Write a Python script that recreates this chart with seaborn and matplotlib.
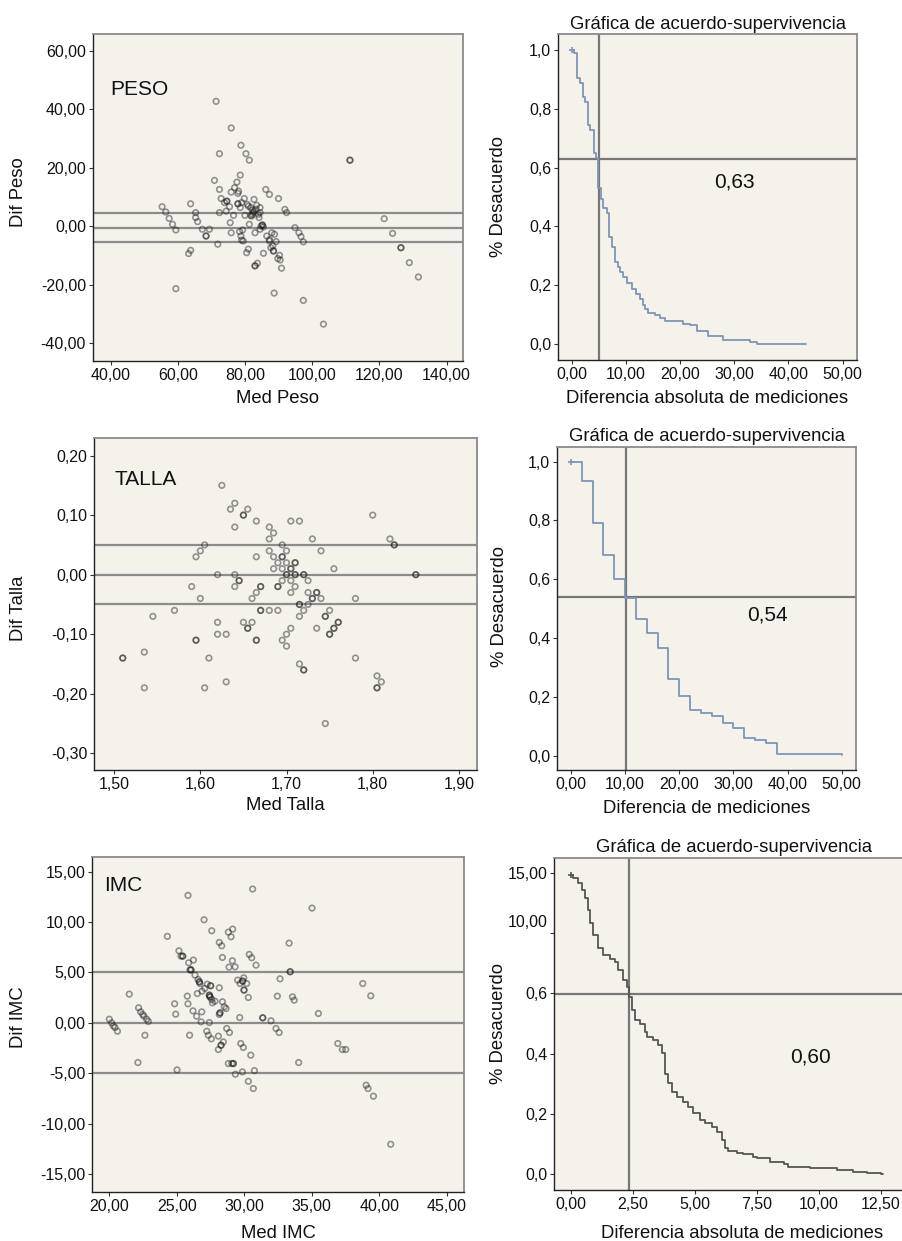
import matplotlib
matplotlib.use("Agg")
import matplotlib.pyplot as plt
import matplotlib.transforms as mtransforms
import seaborn as sns

sns.set_theme(style="white")
plt.rcParams['font.family'] = ['Liberation Sans', 'DejaVu Sans']

# ---------------- DATA ----------------
# PESO Bland-Altman
peso_med = [55.2, 56.3, 57.3, 58.3, 59.3, 59.3, 63.1, 63.7, 63.7, 65.2, 65.2, 65.8, 67.2, 68.3, 68.3,
            69.3, 70.8, 71.3, 71.8, 72.3, 72.3, 72.3, 72.8, 73.8, 74.3, 74.5, 74.5, 75.3, 75.5, 75.8,
            75.8, 75.8, 76.5, 76.8, 77.5, 77.8, 77.8, 77.8, 78.0, 78.3, 78.5, 78.5, 78.7, 78.7, 78.9,
            78.9, 79.2, 79.4, 79.7, 79.9, 80.2, 80.4, 80.9, 80.9, 80.6, 81.2, 81.2, 81.6, 81.6, 81.9,
            82.1, 82.1, 82.4, 82.6, 82.6, 82.9, 82.9, 82.9, 83.2, 83.4, 83.6, 83.9, 84.1, 84.4, 84.4,
            84.4, 84.7, 85.1, 85.1, 85.4, 85.4, 86.1, 86.4, 87.2, 87.2, 87.2, 87.6, 87.9, 88.2, 88.4,
            88.4, 88.6, 88.7, 89.2, 89.7, 89.9, 90.2, 90.4, 90.8, 91.8, 92.3, 94.8, 96.0, 96.6, 97.3,
            97.3, 103.3, 111.2, 111.2, 121.4, 123.9, 126.4, 126.4, 128.9, 131.6]
peso_dif = [6.7, 4.9, 2.7, 0.7, -1.25, -21.3, -9.3, -8.2, 7.7, 4.7, 3.0, 1.6, -1.0, -3.3, -3.3,
            -1.0, 15.7, 42.7, -6.1, 4.7, 12.6, 24.8, 9.5, 8.1, 5.2, 8.6, 8.6, 6.7, 1.25, 11.7,
            33.6, -2.2, 3.75, 13.2, 15.1, 11.25, 7.7, 7.7, 12.0, -1.8, 6.4, 17.5, 27.7, -3.3, -4.7,
            8.1, -1.25, -5.0, 9.5, 3.75, 24.8, -9.0, -7.8, 6.9, 7.5, 22.6, 0.7, 6.4, 3.75, 3.5,
            5.6, 4.1, 4.7, 9.2, 5.2, -2.2, -13.5, -13.5, 5.8, 7.2, -12.6, 4.1, 3.0, 6.4, 4.7,
            -1.0, 0.1, 0.45, 0.45, -9.2, -0.2, 12.6, -3.3, 10.9, -5.0, -4.5, -7.3, -2.2, -6.7, -8.4,
            -8.4, -22.8, -2.7, -5.2, -11.0, 9.5, -9.9, -11.5, -14.3, 5.8, 4.7, -0.45, -2.2, -3.5, -25.3,
            -5.3, -33.4, 22.6, 22.6, 2.6, -2.4, -7.3, -7.3, -12.4, -17.3]
peso_lines = [4.6, -0.4, -5.5]

# TALLA Bland-Altman
talla_med = [1.51, 1.51, 1.535, 1.535, 1.545, 1.57, 1.59, 1.595, 1.595, 1.595, 1.60, 1.60, 1.605, 1.605,
             1.61, 1.62, 1.62, 1.62, 1.625, 1.63, 1.63, 1.635, 1.64, 1.64, 1.64, 1.64, 1.645, 1.645,
             1.65, 1.65, 1.65, 1.655, 1.655, 1.655, 1.66, 1.66, 1.665, 1.665, 1.665, 1.665, 1.665,
             1.67, 1.67, 1.67, 1.67, 1.68, 1.68, 1.68, 1.68, 1.685, 1.685, 1.685, 1.69, 1.69, 1.69,
             1.69, 1.695, 1.695, 1.695, 1.695, 1.695, 1.695, 1.70, 1.70, 1.70, 1.70, 1.70, 1.70,
             1.705, 1.705, 1.705, 1.705, 1.705, 1.705, 1.71, 1.71, 1.71, 1.71, 1.71, 1.715, 1.715,
             1.715, 1.715, 1.715, 1.72, 1.72, 1.72, 1.72, 1.72, 1.725, 1.725, 1.725, 1.73, 1.73,
             1.73, 1.735, 1.735, 1.735, 1.74, 1.74, 1.745, 1.745, 1.745, 1.75, 1.75, 1.75, 1.755,
             1.755, 1.755, 1.76, 1.76, 1.78, 1.78, 1.80, 1.805, 1.805, 1.805, 1.81, 1.82, 1.825,
             1.825, 1.85, 1.85]
talla_dif = [-0.14, -0.14, -0.13, -0.19, -0.07, -0.06, -0.02, 0.03, -0.11, -0.11, 0.04, -0.04, 0.05, -0.19,
             -0.14, 0.00, -0.08, -0.10, 0.15, -0.10, -0.18, 0.11, 0.12, 0.08, 0.00, -0.02, -0.01, -0.01,
             0.10, 0.10, -0.08, 0.11, -0.09, -0.09, -0.08, -0.04, 0.09, 0.03, -0.03, -0.11, -0.11,
             -0.02, -0.02, -0.06, -0.06, 0.08, 0.06, 0.04, -0.06, 0.07, 0.03, 0.01, 0.02, -0.02, -0.02,
             -0.06, 0.05, 0.03, 0.03, 0.01, -0.01, -0.11, 0.04, 0.02, 0.00, 0.00, -0.10, -0.12,
             0.09, 0.01, 0.01, -0.01, -0.03, -0.09, 0.02, 0.02, 0.00, 0.00, -0.02, 0.09, -0.05,
             -0.05, -0.07, -0.15, 0.00, 0.00, -0.06, -0.16, -0.16, -0.01, -0.03, -0.05, 0.06, -0.04,
             -0.04, -0.03, -0.03, -0.09, 0.04, -0.04, -0.07, -0.07, -0.25, -0.06, -0.10, -0.10, 0.01,
             -0.09, -0.09, -0.08, -0.08, -0.04, -0.14, 0.10, -0.17, -0.19, -0.19, -0.18, 0.06, 0.05,
             0.05, 0.00, 0.00]
talla_lines = [0.05, 0.0, -0.05]

# IMC Bland-Altman
imc_med = [20.0, 20.17, 20.3, 20.42, 20.6, 21.48, 22.17, 22.12, 22.32, 22.47, 22.57, 22.64, 22.77, 22.89,
           24.3, 24.84, 24.92, 25.02, 25.16, 25.31, 25.44, 25.44, 25.78, 25.83, 25.83, 25.88, 25.95,
           25.98, 26.05, 26.05, 26.2, 26.23, 26.35, 26.47, 26.52, 26.57, 26.67, 26.67, 26.72, 26.8,
           26.85, 26.87, 27.02, 27.07, 27.22, 27.26, 27.34, 27.41, 27.41, 27.41, 27.46, 27.46, 27.51,
           27.51, 27.56, 27.59, 27.59, 27.64, 27.83, 28.08, 28.08, 28.15, 28.15, 28.15, 28.2, 28.2,
           28.28, 28.28, 28.33, 28.38, 28.38, 28.45, 28.52, 28.65, 28.7, 28.82, 28.82, 28.87, 28.9,
           29.02, 29.07, 29.12, 29.14, 29.19, 29.19, 29.32, 29.34, 29.51, 29.66, 29.69, 29.74, 29.86,
           29.88, 29.88, 29.93, 29.96, 29.98, 29.98, 30.18, 30.3, 30.3, 30.37, 30.48, 30.55, 30.62,
           30.67, 30.75, 30.87, 31.37, 31.37, 31.98, 32.35, 32.45, 32.58, 32.65, 33.32, 33.4, 33.4,
           33.57, 33.7, 34.03, 35.02, 35.49, 36.93, 37.27, 37.52, 38.78, 39.03, 39.17, 39.37, 39.57,
           40.85]
imc_dif = [0.36, 0.0, -0.3, -0.46, -0.83, 2.85, 1.49, -3.94, 1.09, 0.83, 0.66, -1.23, 0.36, 0.13,
           8.58, 1.89, 0.86, -4.67, 7.15, 6.62, 6.62, 6.62, 2.65, 12.65, 1.89, 5.96, -1.23,
           5.26, 5.26, 5.26, 1.19, 6.23, 4.74, 0.66, 2.91, 4.3, 4.07, 4.07, 3.9, 0.1,
           1.09, 3.15, 10.23, 3.41, -0.83, 3.84, -1.23, 0.03, 2.75, 2.75, 2.58, 2.58, 3.68,
           3.68, -1.59, 9.14, 2.32, 1.99, 2.15, -1.32, -2.65, 3.48, 0.83, 7.98, 0.99, 0.99,
           -2.22, -2.22, 7.65, 2.09, 6.49, -1.89, 1.59, 1.42, -0.56, -4.04, 9.0, 5.53, -0.96,
           8.54, -4.04, 6.16, 9.3, -4.04, -4.04, 5.56, -5.1, 4.24, 0.53, 3.9, -2.05, -4.87,
           4.14, 4.14, -2.45, 4.47, 3.25, 3.25, 3.9, 2.52, -5.8, 6.79, -3.21, 6.46, 13.28,
           -6.52, -4.74, 5.73, 0.5, 0.5, 0.2, -0.56, 2.65, -0.96, 4.37, 7.91, 5.07, 5.07,
           2.58, 2.25, -3.94, 11.39, 0.93, -2.05, -2.65, -2.65, 3.9, -6.19, -6.52, 2.68, -7.28,
           -12.05]
imc_lines = [5.0, 0.0, -5.0]

# Survival-agreement curves
peso_t = [0.0, 0.49, 1.05, 1.54, 2.15, 2.46, 3.08, 3.38, 4.12, 4.49, 4.92, 5.41, 5.84, 6.46, 6.95,
          7.38, 8.0, 8.61, 8.92, 9.41, 10.15, 11.07, 11.87, 12.61, 13.22, 13.53, 14.02, 15.38, 16.3,
          17.22, 20.6, 21.83, 23.06, 25.2, 27.98, 32.9, 34.13, 43.2]
peso_s = [1.0, 0.989, 0.906, 0.889, 0.841, 0.824, 0.745, 0.728, 0.649, 0.632, 0.532, 0.493, 0.464,
          0.444, 0.365, 0.331, 0.280, 0.263, 0.246, 0.229, 0.209, 0.189, 0.172, 0.153, 0.133, 0.118,
          0.107, 0.099, 0.090, 0.078, 0.070, 0.065, 0.044, 0.027, 0.014, 0.008, 0.0, 0.0]
peso_ref_x, peso_ref_y, peso_label = 5.0, 0.63, "0,63"

talla_t = [0, 2, 4, 6, 8, 10, 12, 14, 16, 18, 20, 22, 24, 26, 28, 30, 32, 34, 36, 38, 50]
talla_s = [1.0, 0.934, 0.793, 0.683, 0.600, 0.537, 0.465, 0.416, 0.365, 0.261, 0.204, 0.155,
           0.144, 0.136, 0.112, 0.093, 0.061, 0.053, 0.042, 0.005, 0.003]
talla_ref_x, talla_ref_y, talla_label = 10.1, 0.541, "0,54"

imc_t = [0.0, 0.11, 0.31, 0.44, 0.58, 0.71, 0.78, 0.91, 1.12, 1.32, 1.59, 1.79, 1.92, 2.12, 2.26,
         2.37, 2.46, 2.59, 2.80, 3.0, 3.06, 3.33, 3.53, 3.67, 3.80, 3.94, 4.07, 4.27, 4.54, 4.74,
         4.95, 5.22, 5.42, 5.69, 5.89, 6.09, 6.22, 6.36, 6.69, 6.96, 7.37, 7.50, 8.04, 8.58, 8.78,
         9.65, 10.73, 11.40, 11.94, 12.5, 12.6]
imc_s = [0.993, 0.982, 0.966, 0.944, 0.916, 0.877, 0.833, 0.794, 0.750, 0.728, 0.716, 0.705, 0.678,
         0.645, 0.622, 0.589, 0.545, 0.512, 0.498, 0.473, 0.456, 0.445, 0.429, 0.401, 0.334, 0.301,
         0.274, 0.257, 0.240, 0.224, 0.202, 0.179, 0.168, 0.157, 0.141, 0.113, 0.085, 0.076, 0.071,
         0.065, 0.058, 0.052, 0.041, 0.033, 0.024, 0.019, 0.013, 0.008, 0.002, 0.0, 0.0]
imc_ref_x, imc_ref_y, imc_label = 2.35, 0.597, "0,60"

# Tick labels
peso_xticks = [40, 60, 80, 100, 120, 140]
peso_xlabels = ["40,00", "60,00", "80,00", "100,00", "120,00", "140,00"]
peso_yticks = [-40, -20, 0, 20, 40, 60]
peso_ylabels = ["-40,00", "-20,00", "0,00", "20,00", "40,00", "60,00"]
talla_xticks = [1.5, 1.6, 1.7, 1.8, 1.9]
talla_xlabels = ["1,50", "1,60", "1,70", "1,80", "1,90"]
talla_yticks = [-0.3, -0.2, -0.1, 0.0, 0.1, 0.2]
talla_ylabels = ["-0,30", "-0,20", "-0,10", "0,00", "0,10", "0,20"]
imc_xticks = [20, 25, 30, 35, 40, 45]
imc_xlabels = ["20,00", "25,00", "30,00", "35,00", "40,00", "45,00"]
imc_yticks = [-15, -10, -5, 0, 5, 10, 15]
imc_ylabels = ["-15,00", "-10,00", "-5,00", "0,00", "5,00", "10,00", "15,00"]
surv_yticks = [0.0, 0.2, 0.4, 0.6, 0.8, 1.0]
surv_ylabels = ["0,0", "0,2", "0,4", "0,6", "0,8", "1,0"]
surv3_ylabels = ["0,0", "0,2", "0,4", "0,6", "10,00", "15,00"]
surv_xticks = [0, 10, 20, 30, 40, 50]
surv_xlabels = ["0,00", "10,00", "20,00", "30,00", "40,00", "50,00"]
surv3_xticks = [0, 2.5, 5, 7.5, 10, 12.5]
surv3_xlabels = ["0,00", "2,50", "5,00", "7,50", "10,00", "12,50"]

TITLE = "Gráfica de acuerdo-supervivencia"

# ---------------- STYLE ----------------
W, H = 902, 1241
BG = "#f5f2eb"
TICK_FS = 11.5
LAB_FS = 13.3
fig = plt.figure(figsize=(W / 100, H / 100), dpi=100)
fig.patch.set_facecolor("white")


def make_ax(L, R, T, B):
    ax = fig.add_axes([L / W, 1 - B / H, (R - L) / W, (B - T) / H])
    ax.set_facecolor(BG)
    for s in ["left", "bottom"]:
        ax.spines[s].set_color("#222222")
        ax.spines[s].set_linewidth(1.0)
    for s in ["top", "right"]:
        ax.spines[s].set_color("#8a8a8a")
        ax.spines[s].set_linewidth(1.3)
    ax.tick_params(axis="both", which="major", direction="out", length=3, width=0.8,
                   color="#333333", labelsize=TICK_FS, pad=2, left=True, bottom=True,
                   labelcolor="#111111")
    ax.grid(False)
    return ax


def set_ticks(ax, xt, xl, yt, yl):
    ax.set_xticks(xt)
    ax.set_xticklabels(xl)
    ax.set_yticks(yt)
    ax.set_yticklabels(yl)


def labels(ax, L, R, T, B, xlab, ylab, xl_y, yl_x, yl_y, xl_x=None):
    w, h = R - L, B - T
    ax.set_xlabel(xlab, fontsize=LAB_FS, va="center", color="#111111")
    ax.set_ylabel(ylab, fontsize=LAB_FS, va="center", color="#111111")
    cx = 0.5 if xl_x is None else (xl_x - L) / w
    ax.xaxis.set_label_coords(cx, (B - xl_y) / h)
    ax.yaxis.set_label_coords((yl_x - L) / w, (B - yl_y) / h)


def bland(ax, x, y, lines):
    for v in lines:
        ax.axhline(v, color="#8c8c8c", lw=1.6, zorder=1)
    sns.scatterplot(x=x, y=y, ax=ax, marker="o", s=16, zorder=3, legend=False)
    pts = ax.collections[-1]
    pts.set_facecolor("none")
    pts.set_edgecolor((0.1, 0.1, 0.1, 0.45))
    pts.set_linewidth(1.2)


def surv(ax, t, s, rx, ry, color):
    ax.axvline(rx, color="#777777", lw=1.6, zorder=1)
    ax.axhline(ry, color="#777777", lw=1.6, zorder=1)
    sns.lineplot(x=t, y=s, ax=ax, drawstyle="steps-post", estimator=None, sort=False,
                 color=color, lw=1.3, zorder=3, legend=False)
    ax.plot(t[:1], s[:1], marker="+", ms=4, mew=1.2, color=color, zorder=4)


# ---- Panel A: PESO ----
L, R, T, B = 93, 463, 34, 361
axA = make_ax(L, R, T, B)
bland(axA, peso_med, peso_dif, peso_lines)
set_ticks(axA, peso_xticks, peso_xlabels, peso_yticks, peso_ylabels)
axA.set_xlim(34.6, 144.9)
axA.set_ylim(-46.0, 65.7)
axA.text(39.7, 46.9, "PESO", fontsize=15, ha="left", va="center", color="#111111")
labels(axA, L, R, T, B, "Med Peso", "Dif Peso", 398, 18.3, 191.7)

# ---- Panel B: PESO survival ----
L, R, T, B = 558.3, 856.7, 34.3, 360
axB = make_ax(L, R, T, B)
surv(axB, peso_t, peso_s, peso_ref_x, peso_ref_y, "#7f95b5")
set_ticks(axB, surv_xticks, surv_xlabels, surv_yticks, surv_ylabels)
axB.set_xlim(-2.47, 52.6)
axB.set_ylim(-0.054, 1.053)
axB.text(30.1, 0.552, peso_label, fontsize=15, ha="center", va="center", color="#111111")
axB.set_title(TITLE, fontsize=LAB_FS, pad=4, color="#111111")
labels(axB, L, R, T, B, "Diferencia absoluta de mediciones", "% Desacuerdo", 398.3, 498.3, 196.7)

# ---- Panel C: TALLA ----
L, R, T, B = 94.3, 477, 438.3, 770
axC = make_ax(L, R, T, B)
bland(axC, talla_med, talla_dif, talla_lines)
set_ticks(axC, talla_xticks, talla_xlabels, talla_yticks, talla_ylabels)
axC.set_xlim(1.477, 1.921)
axC.set_ylim(-0.328, 0.229)
axC.text(1.50, 0.159, "TALLA", fontsize=15, ha="left", va="center", color="#111111")
labels(axC, L, R, T, B, "Med Talla", "Dif Talla", 806, 18.3, 608.3)

# ---- Panel D: TALLA survival ----
L, R, T, B = 557.3, 856, 446.7, 770
axD = make_ax(L, R, T, B)
surv(axD, talla_t, talla_s, talla_ref_x, talla_ref_y, "#7f95b5")
set_ticks(axD, surv_xticks, surv_xlabels, surv_yticks, surv_ylabels)
axD.set_xlim(-2.53, 52.64)
axD.set_ylim(-0.049, 1.051)
axD.text(36.3, 0.478, talla_label, fontsize=15, ha="center", va="center", color="#111111")
axD.set_title(TITLE, fontsize=LAB_FS, pad=4, color="#111111")
labels(axD, L, R, T, B, "Diferencia de mediciones", "% Desacuerdo", 808.3, 500, 606.7)

# ---- Panel E: IMC ----
L, R, T, B = 92.3, 464, 856.7, 1191.7
axE = make_ax(L, R, T, B)
bland(axE, imc_med, imc_dif, imc_lines)
set_ticks(axE, imc_xticks, imc_xlabels, imc_yticks, imc_ylabels)
axE.set_xlim(18.74, 46.28)
axE.set_ylim(-16.76, 16.49)
axE.text(19.63, 13.68, "IMC", fontsize=15, ha="left", va="center", color="#111111")
labels(axE, L, R, T, B, "Med IMC", "Dif IMC", 1233.3, 18.3, 1016.7)

# ---- Panel F: IMC survival ----
L, R, T, B = 554.3, 913, 857.7, 1190
axF = make_ax(L, R, T, B)
surv(axF, imc_t, imc_s, imc_ref_x, imc_ref_y, "#555555")
set_ticks(axF, surv3_xticks, surv3_xlabels, surv_yticks, surv3_ylabels)
axF.set_xlim(-0.66, 13.8)
axF.set_ylim(-0.053, 1.051)
axF.text(9.65, 0.388, imc_label, fontsize=15, ha="center", va="center", color="#111111")
axF.set_title(TITLE, fontsize=LAB_FS, pad=4, color="#111111", x=(734 - L) / (R - L))
labels(axF, L, R, T, B, "Diferencia absoluta de mediciones", "% Desacuerdo", 1233.3, 498.3, 1023,
       xl_x=742)
lab = axF.get_yticklabels()[4]
lab.set_transform(lab.get_transform() + mtransforms.ScaledTranslation(0, 0.12, fig.dpi_scale_trans))

fig.savefig("out.png", dpi=100, facecolor="white")
